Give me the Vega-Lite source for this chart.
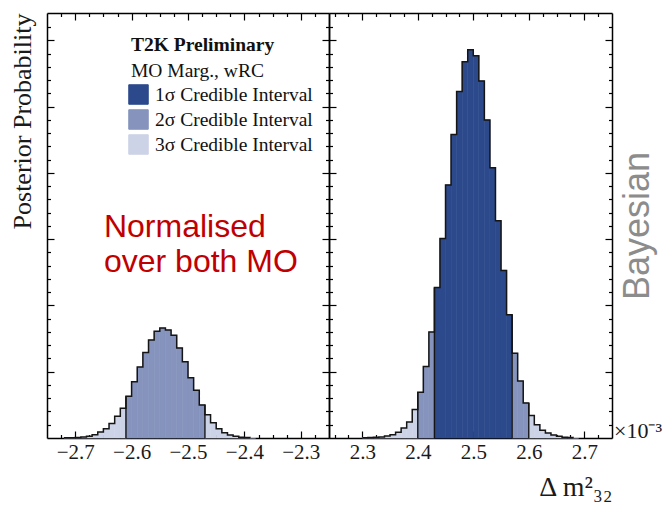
{
  "$schema": "https://vega.github.io/schema/vega-lite/v6.json",
  "padding": {"left": 9, "top": 12, "right": 4, "bottom": 4},
  "background": "white",
  "datasets": {
    "io": [
      {"x0": -2.72, "x1": -2.71, "h": 0.003, "region": "3σ Credible Interval"},
      {"x0": -2.71, "x1": -2.70, "h": 0.004, "region": "3σ Credible Interval"},
      {"x0": -2.70, "x1": -2.69, "h": 0.008, "region": "3σ Credible Interval"},
      {"x0": -2.69, "x1": -2.68, "h": 0.015, "region": "3σ Credible Interval"},
      {"x0": -2.68, "x1": -2.67, "h": 0.025, "region": "3σ Credible Interval"},
      {"x0": -2.67, "x1": -2.66, "h": 0.05, "region": "3σ Credible Interval"},
      {"x0": -2.66, "x1": -2.65, "h": 0.09, "region": "3σ Credible Interval"},
      {"x0": -2.65, "x1": -2.64, "h": 0.14, "region": "3σ Credible Interval"},
      {"x0": -2.64, "x1": -2.63, "h": 0.22, "region": "3σ Credible Interval"},
      {"x0": -2.63, "x1": -2.62, "h": 0.33, "region": "3σ Credible Interval"},
      {"x0": -2.62, "x1": -2.61, "h": 0.45, "region": "3σ Credible Interval"},
      {"x0": -2.61, "x1": -2.60, "h": 0.63, "region": "2σ Credible Interval"},
      {"x0": -2.60, "x1": -2.59, "h": 0.85, "region": "2σ Credible Interval"},
      {"x0": -2.59, "x1": -2.58, "h": 1.07, "region": "2σ Credible Interval"},
      {"x0": -2.58, "x1": -2.57, "h": 1.29, "region": "2σ Credible Interval"},
      {"x0": -2.57, "x1": -2.56, "h": 1.48, "region": "2σ Credible Interval"},
      {"x0": -2.56, "x1": -2.55, "h": 1.61, "region": "2σ Credible Interval"},
      {"x0": -2.55, "x1": -2.54, "h": 1.66, "region": "2σ Credible Interval"},
      {"x0": -2.54, "x1": -2.53, "h": 1.63, "region": "2σ Credible Interval"},
      {"x0": -2.53, "x1": -2.52, "h": 1.55, "region": "2σ Credible Interval"},
      {"x0": -2.52, "x1": -2.51, "h": 1.36, "region": "2σ Credible Interval"},
      {"x0": -2.51, "x1": -2.50, "h": 1.15, "region": "2σ Credible Interval"},
      {"x0": -2.50, "x1": -2.49, "h": 0.91, "region": "2σ Credible Interval"},
      {"x0": -2.49, "x1": -2.48, "h": 0.72, "region": "2σ Credible Interval"},
      {"x0": -2.48, "x1": -2.47, "h": 0.50, "region": "2σ Credible Interval"},
      {"x0": -2.47, "x1": -2.46, "h": 0.35, "region": "3σ Credible Interval"},
      {"x0": -2.46, "x1": -2.45, "h": 0.23, "region": "3σ Credible Interval"},
      {"x0": -2.45, "x1": -2.44, "h": 0.14, "region": "3σ Credible Interval"},
      {"x0": -2.44, "x1": -2.43, "h": 0.08, "region": "3σ Credible Interval"},
      {"x0": -2.43, "x1": -2.42, "h": 0.045, "region": "3σ Credible Interval"},
      {"x0": -2.42, "x1": -2.41, "h": 0.025, "region": "3σ Credible Interval"},
      {"x0": -2.41, "x1": -2.40, "h": 0.012, "region": "3σ Credible Interval"},
      {"x0": -2.40, "x1": -2.39, "h": 0.006, "region": "3σ Credible Interval"},
      {"x0": -2.39, "x1": -2.38, "h": 0.003, "region": "3σ Credible Interval"}
    ],
    "io_edges": [
      {"x": -2.61, "h": 0.63},
      {"x": -2.47, "h": 0.50}
    ],
    "no": [
      {"x0": 2.30, "x1": 2.31, "h": 0.005, "region": "3σ Credible Interval"},
      {"x0": 2.31, "x1": 2.32, "h": 0.008, "region": "3σ Credible Interval"},
      {"x0": 2.32, "x1": 2.33, "h": 0.01, "region": "3σ Credible Interval"},
      {"x0": 2.33, "x1": 2.34, "h": 0.015, "region": "3σ Credible Interval"},
      {"x0": 2.34, "x1": 2.35, "h": 0.03, "region": "3σ Credible Interval"},
      {"x0": 2.35, "x1": 2.36, "h": 0.05, "region": "3σ Credible Interval"},
      {"x0": 2.36, "x1": 2.37, "h": 0.086, "region": "3σ Credible Interval"},
      {"x0": 2.37, "x1": 2.38, "h": 0.15, "region": "3σ Credible Interval"},
      {"x0": 2.38, "x1": 2.39, "h": 0.24, "region": "3σ Credible Interval"},
      {"x0": 2.39, "x1": 2.40, "h": 0.43, "region": "3σ Credible Interval"},
      {"x0": 2.40, "x1": 2.41, "h": 0.69, "region": "2σ Credible Interval"},
      {"x0": 2.41, "x1": 2.42, "h": 1.08, "region": "2σ Credible Interval"},
      {"x0": 2.42, "x1": 2.43, "h": 1.60, "region": "2σ Credible Interval"},
      {"x0": 2.43, "x1": 2.44, "h": 2.27, "region": "1σ Credible Interval"},
      {"x0": 2.44, "x1": 2.45, "h": 3.01, "region": "1σ Credible Interval"},
      {"x0": 2.45, "x1": 2.46, "h": 3.82, "region": "1σ Credible Interval"},
      {"x0": 2.46, "x1": 2.47, "h": 4.58, "region": "1σ Credible Interval"},
      {"x0": 2.47, "x1": 2.48, "h": 5.23, "region": "1σ Credible Interval"},
      {"x0": 2.48, "x1": 2.49, "h": 5.68, "region": "1σ Credible Interval"},
      {"x0": 2.49, "x1": 2.50, "h": 5.86, "region": "1σ Credible Interval"},
      {"x0": 2.50, "x1": 2.51, "h": 5.77, "region": "1σ Credible Interval"},
      {"x0": 2.51, "x1": 2.52, "h": 5.39, "region": "1σ Credible Interval"},
      {"x0": 2.52, "x1": 2.53, "h": 4.80, "region": "1σ Credible Interval"},
      {"x0": 2.53, "x1": 2.54, "h": 4.08, "region": "1σ Credible Interval"},
      {"x0": 2.54, "x1": 2.55, "h": 3.28, "region": "1σ Credible Interval"},
      {"x0": 2.55, "x1": 2.56, "h": 2.53, "region": "1σ Credible Interval"},
      {"x0": 2.56, "x1": 2.57, "h": 1.86, "region": "1σ Credible Interval"},
      {"x0": 2.57, "x1": 2.58, "h": 1.28, "region": "2σ Credible Interval"},
      {"x0": 2.58, "x1": 2.59, "h": 0.86, "region": "2σ Credible Interval"},
      {"x0": 2.59, "x1": 2.60, "h": 0.53, "region": "2σ Credible Interval"},
      {"x0": 2.60, "x1": 2.61, "h": 0.34, "region": "3σ Credible Interval"},
      {"x0": 2.61, "x1": 2.62, "h": 0.20, "region": "3σ Credible Interval"},
      {"x0": 2.62, "x1": 2.63, "h": 0.116, "region": "3σ Credible Interval"},
      {"x0": 2.63, "x1": 2.64, "h": 0.076, "region": "3σ Credible Interval"},
      {"x0": 2.64, "x1": 2.65, "h": 0.045, "region": "3σ Credible Interval"},
      {"x0": 2.65, "x1": 2.66, "h": 0.025, "region": "3σ Credible Interval"},
      {"x0": 2.66, "x1": 2.67, "h": 0.012, "region": "3σ Credible Interval"},
      {"x0": 2.67, "x1": 2.68, "h": 0.006, "region": "3σ Credible Interval"},
      {"x0": 2.68, "x1": 2.69, "h": 0.003, "region": "3σ Credible Interval"}
    ],
    "no_edges": [
      {"x": 2.40, "h": 0.69},
      {"x": 2.43, "h": 2.27},
      {"x": 2.57, "h": 1.86},
      {"x": 2.60, "h": 0.53}
    ]
  },
  "hconcat": [
    {
      "width": 282,
      "height": 425,
      "resolve": {"axis": {"x": "independent", "y": "independent"}},
      "layer": [
        {
          "data": {"name": "io"},
          "mark": {"type": "rect", "strokeWidth": 0.6, "opacity": 1},
          "encoding": {
            "x": {"field": "x0", "type": "quantitative", "scale": {"domain": [-2.75, -2.25], "nice": false, "zero": false},
              "axis": {"orient": "bottom", "title": null,
                "values": [-2.725,-2.7,-2.675,-2.65,-2.625,-2.6,-2.575,-2.55,-2.525,-2.5,-2.475,-2.45,-2.425,-2.4,-2.375,-2.35,-2.325,-2.3,-2.275],
                "tickSize": {"condition": {"test": "abs(datum.value*10-round(datum.value*10))<0.01", "value": -7}, "value": -3.5},
                "labelExpr": "abs(datum.value*10-round(datum.value*10))<0.01 ? format(datum.value, '.1f') : ''",
                "labelOverlap": false, "labelFlush": false, "labelBound": false, "labelPadding": 10}},
            "x2": {"field": "x1"},
            "y": {"field": "h", "type": "quantitative", "scale": {"domain": [0, 6.415], "nice": false},
              "axis": {"orient": "left", "labels": false,
                "values": [0.2,0.4,0.6,0.8,1,1.2,1.4,1.6,1.8,2,2.2,2.4,2.6,2.8,3,3.2,3.4,3.6,3.8,4,4.2,4.4,4.6,4.8,5,5.2,5.4,5.6,5.8,6,6.2],
                "tickSize": {"condition": {"test": "abs(datum.value-round(datum.value))<0.01", "value": -7}, "value": -3.5},
                "title": "Posterior Probability", "titleAnchor": "end", "titleFontSize": 26, "titlePadding": 11}},
            "y2": {"datum": 0},
            "color": {"field": "region", "type": "nominal",
              "scale": {"domain": ["1σ Credible Interval", "2σ Credible Interval", "3σ Credible Interval"], "range": ["#2c4a8b", "#8593bd", "#cdd3e7"]},
              "legend": {"orient": "none", "legendX": 81, "legendY": 71, "title": null, "padding": 0,
                "symbolType": "square", "symbolSize": 380, "symbolStrokeColor": "#1a1a1a", "symbolStrokeWidth": 1,
                "symbolOpacity": 1, "labelFont": "Liberation Serif", "labelFontSize": 19.5, "labelColor": "#111",
                "rowPadding": 0, "labelOffset": 6}},
            "stroke": {"field": "region", "type": "nominal",
              "scale": {"domain": ["1σ Credible Interval", "2σ Credible Interval", "3σ Credible Interval"], "range": ["#2c4a8b", "#8593bd", "#cdd3e7"]},
              "legend": null}
          }
        },
        {
          "data": {"name": "io_edges"},
          "mark": {"type": "rule", "color": "#151515", "strokeWidth": 1.4},
          "encoding": {
            "x": {"field": "x", "type": "quantitative", "axis": null},
            "y": {"field": "h", "type": "quantitative", "axis": null},
            "y2": {"datum": 0}
          }
        },
        {
          "data": {"name": "io"},
          "mark": {"type": "line", "interpolate": "step-after", "color": "#151515", "strokeWidth": 1.5},
          "encoding": {
            "x": {"field": "x0", "type": "quantitative",
              "axis": {"orient": "top", "title": null, "labels": false,
                "values": [-2.725,-2.7,-2.675,-2.65,-2.625,-2.6,-2.575,-2.55,-2.525,-2.5,-2.475,-2.45,-2.425,-2.4,-2.375,-2.35,-2.325,-2.3,-2.275],
                "tickSize": {"condition": {"test": "abs(datum.value*10-round(datum.value*10))<0.01", "value": -7}, "value": -3.5}}},
            "y": {"field": "h", "type": "quantitative",
              "axis": {"orient": "right", "title": null, "labels": false,
                "values": [0.2,0.4,0.6,0.8,1,1.2,1.4,1.6,1.8,2,2.2,2.4,2.6,2.8,3,3.2,3.4,3.6,3.8,4,4.2,4.4,4.6,4.8,5,5.2,5.4,5.6,5.8,6,6.2],
                "tickSize": {"condition": {"test": "abs(datum.value-round(datum.value))<0.01", "value": -7}, "value": -3.5}}}
          }
        },
        {
          "data": {"values": [{"t": "T2K Preliminary"}]},
          "mark": {"type": "text", "font": "Liberation Serif", "fontWeight": "bold", "fontSize": 19.5, "align": "left", "baseline": "alphabetic", "color": "#111"},
          "encoding": {
            "x": {"datum": -2.601, "type": "quantitative", "axis": null},
            "y": {"datum": 5.84, "type": "quantitative", "axis": null},
            "text": {"field": "t"}
          }
        },
        {
          "data": {"values": [{"t": "MO Marg., wRC"}]},
          "mark": {"type": "text", "font": "Liberation Serif", "fontSize": 19.5, "align": "left", "baseline": "alphabetic", "color": "#111"},
          "encoding": {
            "x": {"datum": -2.601, "type": "quantitative", "axis": null},
            "y": {"datum": 5.45, "type": "quantitative", "axis": null},
            "text": {"field": "t"}
          }
        },
        {
          "data": {"values": [{"t": "Normalised\nover both MO"}]},
          "mark": {"type": "text", "font": "Liberation Sans", "fontSize": 32, "align": "left", "baseline": "alphabetic", "color": "#c00000", "lineBreak": "\n", "lineHeight": 35},
          "encoding": {
            "x": {"datum": -2.649, "type": "quantitative", "axis": null},
            "y": {"datum": 3.03, "type": "quantitative", "axis": null},
            "text": {"field": "t"}
          }
        }
      ]
    },
    {
      "width": 283,
      "height": 425,
      "resolve": {"axis": {"x": "independent", "y": "independent"}},
      "layer": [
        {
          "data": {"name": "no"},
          "mark": {"type": "rect", "strokeWidth": 0.6, "opacity": 1},
          "encoding": {
            "x": {"field": "x0", "type": "quantitative", "scale": {"domain": [2.24, 2.75], "nice": false, "zero": false},
              "axis": {"orient": "bottom",
                "values": [2.25,2.275,2.3,2.325,2.35,2.375,2.4,2.425,2.45,2.475,2.5,2.525,2.55,2.575,2.6,2.625,2.65,2.675,2.7,2.725],
                "tickSize": {"condition": {"test": "abs(datum.value*10-round(datum.value*10))<0.01", "value": -7}, "value": -3.5},
                "labelExpr": "abs(datum.value*10-round(datum.value*10))<0.01 ? format(datum.value, '.1f') : ''",
                "labelOverlap": false, "labelFlush": false, "labelBound": false, "labelPadding": 10,
                "title": "Δ m²₃₂", "titleAnchor": "end", "titleFontSize": 28, "titlePadding": 8}},
            "x2": {"field": "x1"},
            "y": {"field": "h", "type": "quantitative", "scale": {"domain": [0, 6.415], "nice": false},
              "axis": {"orient": "left", "labels": false, "title": null,
                "values": [0.2,0.4,0.6,0.8,1,1.2,1.4,1.6,1.8,2,2.2,2.4,2.6,2.8,3,3.2,3.4,3.6,3.8,4,4.2,4.4,4.6,4.8,5,5.2,5.4,5.6,5.8,6,6.2],
                "tickSize": {"condition": {"test": "abs(datum.value-round(datum.value))<0.01", "value": -7}, "value": -3.5}}},
            "y2": {"datum": 0},
            "color": {"field": "region", "type": "nominal",
              "scale": {"domain": ["1σ Credible Interval", "2σ Credible Interval", "3σ Credible Interval"], "range": ["#2c4a8b", "#8593bd", "#cdd3e7"]},
              "legend": null},
            "stroke": {"field": "region", "type": "nominal",
              "scale": {"domain": ["1σ Credible Interval", "2σ Credible Interval", "3σ Credible Interval"], "range": ["#2c4a8b", "#8593bd", "#cdd3e7"]},
              "legend": null}
          }
        },
        {
          "data": {"name": "no_edges"},
          "mark": {"type": "rule", "color": "#151515", "strokeWidth": 1.4},
          "encoding": {
            "x": {"field": "x", "type": "quantitative", "axis": null},
            "y": {"field": "h", "type": "quantitative", "axis": null},
            "y2": {"datum": 0}
          }
        },
        {
          "data": {"name": "no"},
          "mark": {"type": "line", "interpolate": "step-after", "color": "#151515", "strokeWidth": 1.5},
          "encoding": {
            "x": {"field": "x0", "type": "quantitative",
              "axis": {"orient": "top", "title": null, "labels": false,
                "values": [2.25,2.275,2.3,2.325,2.35,2.375,2.4,2.425,2.45,2.475,2.5,2.525,2.55,2.575,2.6,2.625,2.65,2.675,2.7,2.725],
                "tickSize": {"condition": {"test": "abs(datum.value*10-round(datum.value*10))<0.01", "value": -7}, "value": -3.5}}},
            "y": {"field": "h", "type": "quantitative",
              "axis": {"orient": "right", "labels": false,
                "values": [0.2,0.4,0.6,0.8,1,1.2,1.4,1.6,1.8,2,2.2,2.4,2.6,2.8,3,3.2,3.4,3.6,3.8,4,4.2,4.4,4.6,4.8,5,5.2,5.4,5.6,5.8,6,6.2],
                "tickSize": {"condition": {"test": "abs(datum.value-round(datum.value))<0.01", "value": -7}, "value": -3.5},
                "title": "Bayesian", "titleAngle": 270, "titleFont": "Liberation Sans", "titleFontSize": 36, "titleColor": "#8c8c8c", "titlePadding": 44}}
          }
        },
        {
          "data": {"values": [{"t": "×10⁻³"}]},
          "mark": {"type": "text", "font": "Liberation Serif", "fontSize": 22, "align": "left", "baseline": "middle", "color": "#1a1a1a", "dx": 2},
          "encoding": {
            "x": {"datum": 2.75, "type": "quantitative", "axis": null},
            "y": {"datum": 0.1, "type": "quantitative", "axis": null},
            "text": {"field": "t"}
          }
        }
      ]
    }
  ],
  "spacing": 0,
  "bounds": "flush",
  "resolve": {"scale": {"color": "independent", "stroke": "independent"}, "legend": {"color": "independent"}},
  "config": {
    "view": {"stroke": null},
    "axis": {"domainColor": "#000", "domainWidth": 1.5, "tickColor": "#000", "tickWidth": 1.2, "grid": false,
      "labelFont": "Liberation Serif", "labelFontSize": 21, "labelColor": "#1a1a1a",
      "titleFont": "Liberation Serif", "titleFontWeight": "normal", "titleColor": "#1a1a1a"}
  }
}
